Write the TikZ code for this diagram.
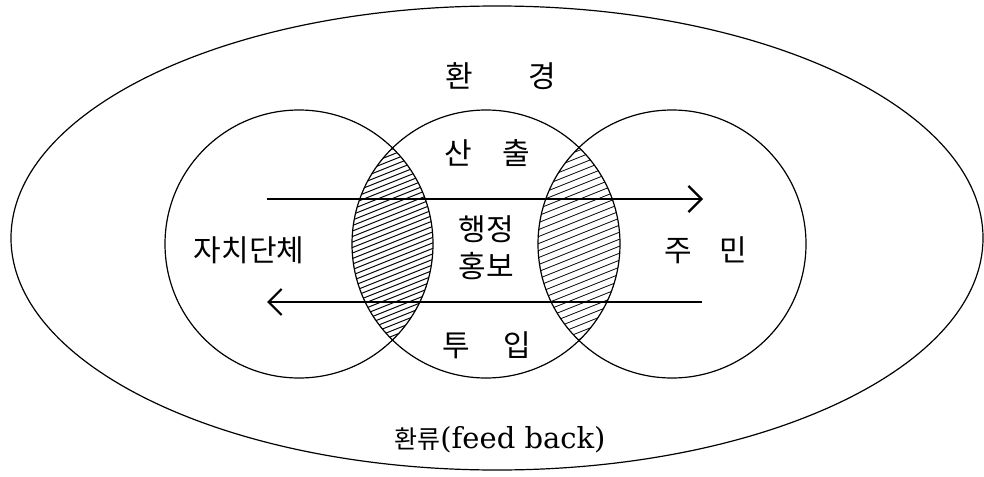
\documentclass[tikz,border=0pt]{standalone}
\usepackage{fontspec}
\setmainfont{DejaVu Serif}
\newfontfamily\kr{Noto Sans CJK KR}
\usetikzlibrary{arrows.meta,shapes.geometric}
\begin{document}
\begin{tikzpicture}[x=1pt,y=-1pt,
  outline/.style={draw=black,line width=1.2pt},
  hatchline/.style={line width=0.8pt},
  flow/.style={line width=2.2pt,-{Straight Barb[length=13pt,width=26pt,line width=2.2pt]}},
  label/.style={font=\kr\fontsize{30}{37}\selectfont,inner sep=0pt,align=center}]
\useasboundingbox (0,0) rectangle (984,476);
% environment ellipse
\node[outline,ellipse,minimum width=972pt,minimum height=464pt,inner sep=0pt] (env) at (497,238) {};
% circles
\coordinate (cL) at (299,244);
\coordinate (cM) at (486,244);
\coordinate (cR) at (672,244);
% hatched lenses
\begin{scope}
  \clip (cL) circle[radius=134pt];
  \clip (cM) circle[radius=134pt];
  \foreach \k in {0,...,62} {
    \draw[hatchline,line width=1pt] (335,95+\k*5.5) -- ++(125,-50);
  }
\end{scope}
\begin{scope}
  \clip (cM) circle[radius=134pt];
  \clip (cR) circle[radius=134pt];
  \foreach \k in {0,...,50} {
    \draw[hatchline] (525,95+\k*7) -- ++(110,-44);
  }
\end{scope}
\node[outline,circle,minimum size=268pt,inner sep=0pt] (gov) at (cL) {};
\node[outline,circle,minimum size=268pt,inner sep=0pt] (pr) at (cM) {};
\node[outline,circle,minimum size=268pt,inner sep=0pt] (cit) at (cR) {};
% arrows
\coordinate (outS) at (267,199);
\coordinate (outE) at (703,199);
\coordinate (inS) at (702,302);
\coordinate (inE) at (267,302);
\draw[flow] (outS) -- (outE);
\draw[flow] (inS) -- (inE);
% labels
\node[label] (t1) at (501,76) {환\hspace{56pt}경};
\node[label] (t2) at (487,153) {산\hspace{30pt}출};
\node[label] (t3) at (486,248) {행정\\홍보};
\node[label] (t4) at (487,345) {투\hspace{34pt}입};
\node[label] (t5) at (249,250) {자치단체};
\node[label] (t6) at (706,250) {주\hspace{27pt}민};
\node[inner sep=0pt,font=\fontsize{29}{32}\selectfont] (t7) at (500,440) {{\kr\fontsize{25}{32}\selectfont 환류}(feed back)};
\end{tikzpicture}
\end{document}
